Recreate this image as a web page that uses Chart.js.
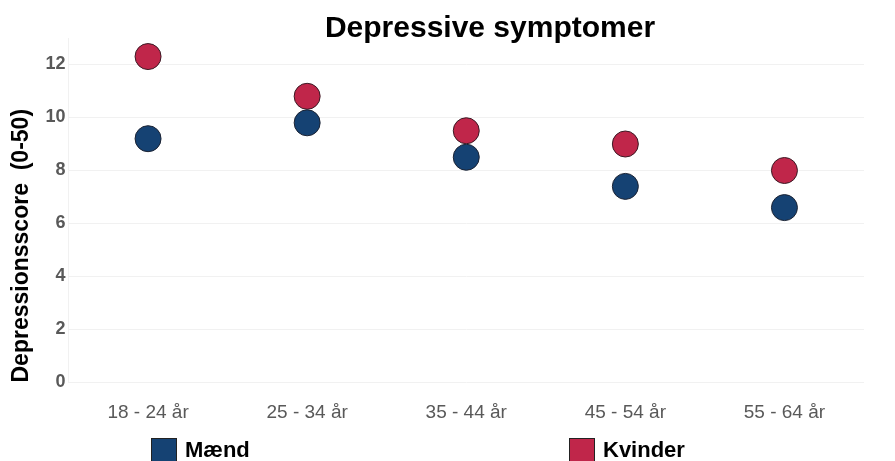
<!DOCTYPE html>
<html>
<head>
<meta charset="utf-8">
<script src="https://cdn.jsdelivr.net/npm/chart.js@4"></script>
<style>
    html, body { margin: 0; padding: 0; background: #fff; }
    #wrap { position: relative; width: 895px; height: 461px; overflow: hidden; font-family: "Liberation Sans", Arial, sans-serif; }
    #chart { position: absolute; left: 0; top: 0; }
    #title { position: absolute; top: 10px; left: 0; width: 980px; text-align: center; font-size: 30px; font-weight: bold; color: #000; }
    .leg { position: absolute; top: 437px; display: flex; align-items: center; font-size: 22px; font-weight: bold; color: #000; }
    .leg span.box { display: inline-block; width: 24px; height: 22px; border: 1px solid #222; margin-right: 8px; }
</style>
</head>
<body>
<div id="wrap">
    <canvas id="chart" width="895" height="461"></canvas>
    <div id="title">Depressive symptomer</div>
    <div class="leg" id="leg-maend" style="left:151px"><span class="box"></span><span class="txt"></span></div>
    <div class="leg" id="leg-kvinder" style="left:569px"><span class="box"></span><span class="txt"></span></div>
</div>
<script>
const ageGroups = ['18 - 24 år', '25 - 34 år', '35 - 44 år', '45 - 54 år', '55 - 64 år'];
const maend = [9.2, 9.8, 8.5, 7.4, 6.6];
const kvinder = [12.3, 10.8, 9.5, 9.0, 8.0];
const seriesNames = ['Mænd', 'Kvinder'];
const seriesColors = ['#154273', '#c0264a'];

document.addEventListener('DOMContentLoaded', () => {
    const ctx = document.getElementById('chart').getContext('2d');

    // legend boxes drawn in html so they can sit far apart like the original
    ['leg-maend', 'leg-kvinder'].forEach((id, i) => {
        const el = document.getElementById(id);
        el.querySelector('.box').style.background = seriesColors[i];
        el.querySelector('.txt').textContent = seriesNames[i];
    });

    new Chart(ctx, {
        type: 'line',
        data: {
            labels: ageGroups,
            datasets: [
                {
                    label: seriesNames[0],
                    data: maend,
                    showLine: false,
                    pointRadius: 13,
                    pointHoverRadius: 13,
                    pointBackgroundColor: seriesColors[0],
                    pointBorderColor: '#1c2333',
                    pointBorderWidth: 1
                },
                {
                    label: seriesNames[1],
                    data: kvinder,
                    showLine: false,
                    pointRadius: 13,
                    pointHoverRadius: 13,
                    pointBackgroundColor: seriesColors[1],
                    pointBorderColor: '#3a1a24',
                    pointBorderWidth: 1
                }
            ]
        },
        options: {
            responsive: false,
            animation: false,
            layout: { padding: { top: 38, right: 31, left: 0, bottom: 0 } },
            plugins: {
                legend: { display: false },
                title: { display: false },
                tooltip: { enabled: false }
            },
            scales: {
                x: {
                    offset: true,
                    grid: { display: false, drawTicks: false },
                    border: { display: false },
                    ticks: {
                        padding: 19,
                        color: '#595959',
                        font: { family: 'Liberation Sans', size: 19 }
                    },
                    afterFit: (scale) => { scale.height = 78.5; }
                },
                y: {
                    min: 0,
                    max: 13,
                    grid: { color: '#f1f1f1', drawTicks: false },
                    border: { color: '#f1f1f1' },
                    ticks: {
                        stepSize: 2,
                        includeBounds: false,
                        padding: 3,
                        color: '#595959',
                        font: { family: 'Liberation Sans', size: 18, weight: 'bold' }
                    },
                    title: {
                        display: true,
                        text: 'Depressionsscore  (0-50)',
                        align: 'start',
                        color: '#000',
                        padding: { top: 8, bottom: 0 },
                        font: { family: 'Liberation Sans', size: 23, weight: 'bold' }
                    },
                    afterFit: (scale) => { scale.width = 68.5; }
                }
            }
        }
    });
});
</script>
</body>
</html>
